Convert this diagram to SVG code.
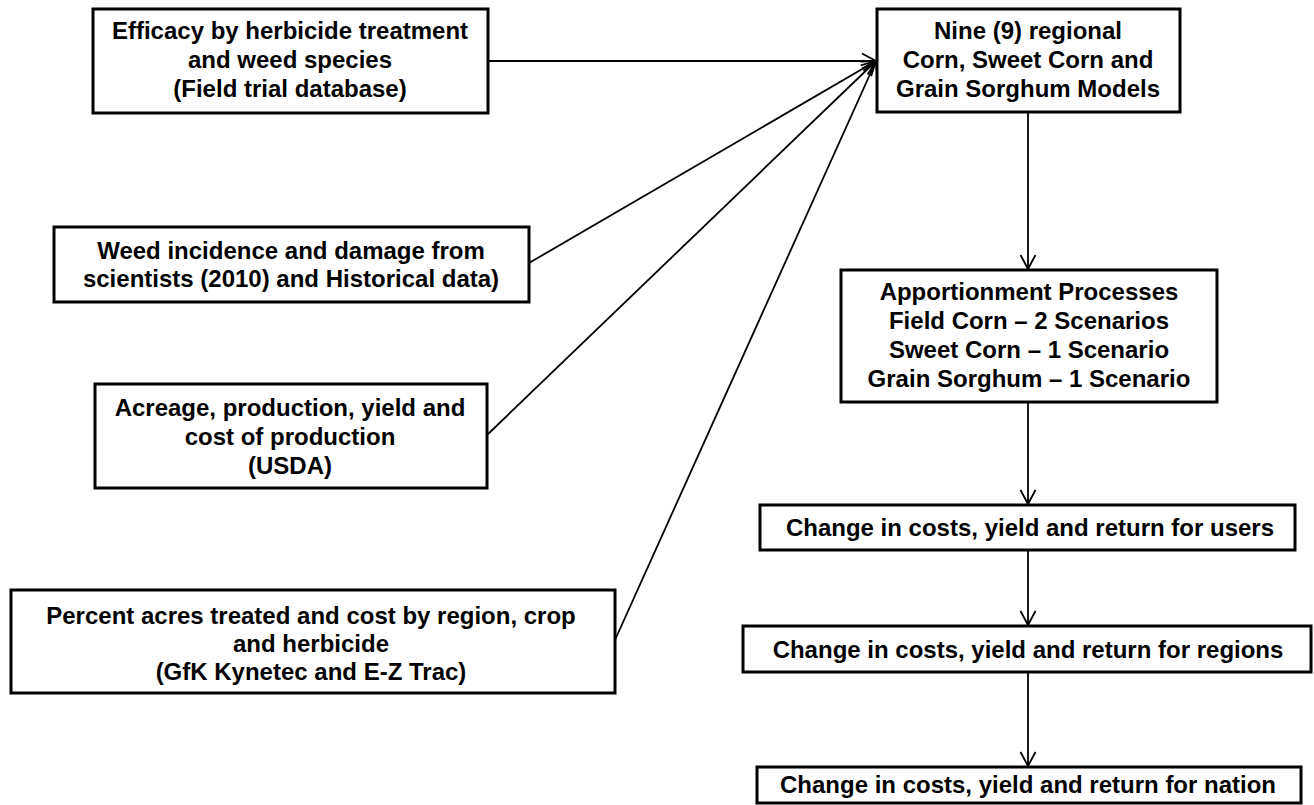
<svg xmlns="http://www.w3.org/2000/svg" width="1314" height="805" viewBox="0 0 1314 805">
<defs>
<marker id="arr" viewBox="0 0 18 18" refX="16" refY="9" markerWidth="18" markerHeight="18" markerUnits="userSpaceOnUse" orient="auto">
<path d="M2,1.5 L16,9 L2,16.5" fill="none" stroke="#000" stroke-width="1.8"/>
</marker>
<style>
.box{fill:#fff;stroke:#000;stroke-width:3}
.t{font-family:"Liberation Sans",Arial,sans-serif;font-weight:bold;font-size:24px;text-anchor:middle;fill:#000}
.c{fill:none;stroke:#000;stroke-width:1.8}
</style>
</defs>
<rect width="1314" height="805" fill="#fff"/>
<g id="connectors">
<line class="c" x1="488" y1="61" x2="876" y2="61" marker-end="url(#arr)"/>
<line class="c" x1="529" y1="263" x2="876" y2="61" marker-end="url(#arr)"/>
<line class="c" x1="487" y1="435" x2="876" y2="61" marker-end="url(#arr)"/>
<line class="c" x1="615" y1="640" x2="876" y2="61" marker-end="url(#arr)"/>
<line class="c" x1="1028" y1="112" x2="1028" y2="269" marker-end="url(#arr)"/>
<line class="c" x1="1028" y1="402" x2="1028" y2="504" marker-end="url(#arr)"/>
<line class="c" x1="1028" y1="550" x2="1028" y2="625" marker-end="url(#arr)"/>
<line class="c" x1="1028" y1="672" x2="1028" y2="766" marker-end="url(#arr)"/>
</g>
<g id="n-efficacy">
<rect class="box" x="93" y="9" width="395" height="104"/>
<text class="t" x="290" y="39">Efficacy by herbicide treatment</text>
<text class="t" x="290" y="68">and weed species</text>
<text class="t" x="290" y="97">(Field trial database)</text>
</g>
<g id="n-weed">
<rect class="box" x="54" y="227" width="475" height="75"/>
<text class="t" x="291" y="259">Weed incidence and damage from</text>
<text class="t" x="291" y="287">scientists (2010) and Historical data)</text>
</g>
<g id="n-acreage">
<rect class="box" x="95" y="384" width="392" height="104"/>
<text class="t" x="290" y="416">Acreage, production, yield and</text>
<text class="t" x="290" y="445">cost of production</text>
<text class="t" x="290" y="474">(USDA)</text>
</g>
<g id="n-percent">
<rect class="box" x="11" y="590" width="604" height="103"/>
<text class="t" x="311" y="624">Percent acres treated and cost by region, crop</text>
<text class="t" x="311" y="652">and herbicide</text>
<text class="t" x="311" y="680">(GfK Kynetec and E-Z Trac)</text>
</g>
<g id="n-nine">
<rect class="box" x="877" y="9" width="303" height="103"/>
<text class="t" x="1028" y="39">Nine (9) regional</text>
<text class="t" x="1028" y="68">Corn, Sweet Corn and</text>
<text class="t" x="1028" y="97">Grain Sorghum Models</text>
</g>
<g id="n-apportion">
<rect class="box" x="841" y="270" width="376" height="132"/>
<text class="t" x="1029" y="300">Apportionment Processes</text>
<text class="t" x="1029" y="329">Field Corn – 2 Scenarios</text>
<text class="t" x="1029" y="358">Sweet Corn – 1 Scenario</text>
<text class="t" x="1029" y="387">Grain Sorghum – 1 Scenario</text>
</g>
<g id="n-users">
<rect class="box" x="760" y="505" width="535" height="45"/>
<text class="t" x="1030" y="536">Change in costs, yield and return for users</text>
</g>
<g id="n-regions">
<rect class="box" x="743" y="626" width="568" height="46"/>
<text class="t" x="1028" y="658">Change in costs, yield and return for regions</text>
</g>
<g id="n-nation">
<rect class="box" x="757" y="767" width="544" height="36"/>
<text class="t" x="1028" y="793">Change in costs, yield and return for nation</text>
</g>
</svg>
